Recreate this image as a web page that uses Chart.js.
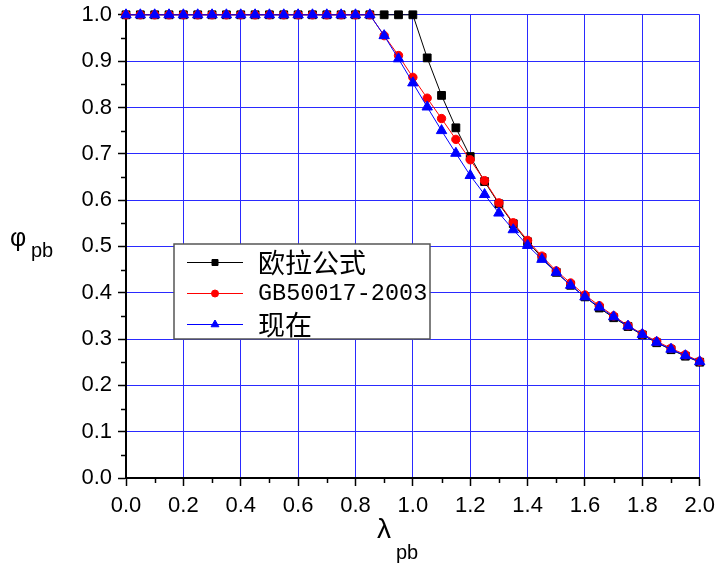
<!DOCTYPE html>
<html>
<head>
<meta charset="utf-8">
<script src="https://cdn.jsdelivr.net/npm/chart.js@4"></script>
<style>
  html, body { margin: 0; padding: 0; background: #fff; }
</style>
</head>
<body>
<canvas id="phiChart" width="721" height="565"></canvas>
<script>
// slenderness values (x)
const lambdaValues = [0, 0.05, 0.1, 0.15, 0.2, 0.25, 0.3, 0.35, 0.4, 0.45, 0.5,
  0.55, 0.6, 0.65, 0.7, 0.75, 0.8, 0.85, 0.9, 0.95, 1.0,
  1.05, 1.1, 1.15, 1.2, 1.25, 1.3, 1.35, 1.4, 1.45, 1.5,
  1.55, 1.6, 1.65, 1.7, 1.75, 1.8, 1.85, 1.9, 1.95, 2.0];

// 欧拉公式
const eulerPhi = [1, 1, 1, 1, 1, 1, 1, 1, 1, 1, 1,
  1, 1, 1, 1, 1, 1, 1, 1, 1, 1,
  0.907, 0.826, 0.756, 0.694, 0.640, 0.592, 0.549, 0.510, 0.476, 0.444,
  0.416, 0.391, 0.367, 0.346, 0.327, 0.309, 0.292, 0.277, 0.263, 0.250];

// GB50017-2003
const gbPhi = [1, 1, 1, 1, 1, 1, 1, 1, 1, 1, 1,
  1, 1, 1, 1, 1, 1, 1, 0.955, 0.912, 0.865,
  0.820, 0.776, 0.731, 0.687, 0.642, 0.594, 0.551, 0.513, 0.479, 0.447,
  0.421, 0.395, 0.372, 0.350, 0.329, 0.311, 0.295, 0.280, 0.266, 0.252];

// 现在
const currentPhi = [1, 1, 1, 1, 1, 1, 1, 1, 1, 1, 1,
  1, 1, 1, 1, 1, 1, 1, 0.955, 0.905, 0.853,
  0.801, 0.750, 0.701, 0.653, 0.612, 0.572, 0.536, 0.502, 0.472, 0.444,
  0.416, 0.391, 0.369, 0.348, 0.328, 0.310, 0.293, 0.278, 0.264, 0.251];

const seriesNames = ["欧拉公式", "GB50017-2003", "现在"];

const xTickValues = [0, 0.2, 0.4, 0.6, 0.8, 1.0, 1.2, 1.4, 1.6, 1.8, 2.0];
const yTickValues = [0, 0.1, 0.2, 0.3, 0.4, 0.5, 0.6, 0.7, 0.8, 0.9, 1.0];
const xMinorTicks = [0.1, 0.3, 0.5, 0.7, 0.9, 1.1, 1.3, 1.5, 1.7, 1.9];
const yMinorTicks = [0.05, 0.15, 0.25, 0.35, 0.45, 0.55, 0.65, 0.75, 0.85, 0.95];

const gridBlue = "#2a2aff";
const xTickFont = { family: "'Liberation Sans', Arial, sans-serif", size: 22, lineHeight: 1.27 };
const yTickFont = { family: "'Liberation Sans', Arial, sans-serif", size: 22, lineHeight: 0.8 };

function toPoints(ys) {
  return lambdaValues.map((x, i) => ({ x: x, y: ys[i] }));
}

function drawMarker(ctx, style, x, y, r, color) {
  ctx.save();
  ctx.fillStyle = color;
  ctx.strokeStyle = color;
  ctx.lineWidth = 1;
  ctx.beginPath();
  if (style === "rect") {
    ctx.rect(x - r, y - r, 2 * r, 2 * r);
  } else if (style === "circle") {
    ctx.arc(x, y, r, 0, Math.PI * 2);
  } else {
    ctx.moveTo(x, y - r);
    ctx.lineTo(x + r * 0.866, y + r * 0.5);
    ctx.lineTo(x - r * 0.866, y + r * 0.5);
    ctx.closePath();
  }
  ctx.fill();
  ctx.stroke();
  ctx.restore();
}

// minor ticks, axis titles with subscripts, legend box inside the plot
const extrasPlugin = {
  id: "extras",
  afterDraw(chart) {
    const ctx = chart.ctx;
    const xs = chart.scales.x, ys = chart.scales.y;
    const area = chart.chartArea;

    ctx.save();
    ctx.strokeStyle = "#000";
    ctx.lineWidth = 1.5;
    xMinorTicks.forEach(v => {
      const px = Math.round(xs.getPixelForValue(v)) + 0.5;
      ctx.beginPath();
      ctx.moveTo(px, area.bottom);
      ctx.lineTo(px, area.bottom + 5);
      ctx.stroke();
    });
    yMinorTicks.forEach(v => {
      const py = Math.round(ys.getPixelForValue(v)) + 0.5;
      ctx.beginPath();
      ctx.moveTo(area.left - 5, py);
      ctx.lineTo(area.left, py);
      ctx.stroke();
    });
    ctx.restore();

    // axis titles
    ctx.save();
    ctx.fillStyle = "#000";
    ctx.textBaseline = "alphabetic";
    ctx.textAlign = "left";
    ctx.font = "25px 'Liberation Sans', Arial, sans-serif";
    ctx.fillText("φ", 10, 246);
    ctx.font = "20px 'Liberation Sans', Arial, sans-serif";
    ctx.fillText("pb", 31, 257);
    ctx.font = "28px 'Liberation Sans', Arial, sans-serif";
    ctx.fillText("λ", 377, 538);
    ctx.font = "20px 'Liberation Sans', Arial, sans-serif";
    ctx.fillText("pb", 396, 559);
    ctx.restore();

    // legend
    const box = { left: 174, top: 244, right: 430, bottom: 339 };
    ctx.save();
    ctx.fillStyle = "#fff";
    ctx.fillRect(box.left, box.top, box.right - box.left, box.bottom - box.top);
    ctx.strokeStyle = "#555";
    ctx.lineWidth = 1.5;
    ctx.strokeRect(box.left, box.top, box.right - box.left, box.bottom - box.top);
    const rows = [262, 293, 324];
    chart.data.datasets.forEach((ds, i) => {
      const y = rows[i];
      ctx.strokeStyle = ds.borderColor;
      ctx.lineWidth = 1;
      ctx.beginPath();
      ctx.moveTo(187, y + 0.5);
      ctx.lineTo(243, y + 0.5);
      ctx.stroke();
      const r = ds.pointStyle === "rect" ? 3 : (ds.pointStyle === "circle" ? 3.5 : 4.5);
      drawMarker(ctx, ds.pointStyle, 215, y + 0.5, r, ds.pointBackgroundColor);
      ctx.fillStyle = "#000";
      ctx.textBaseline = "middle";
      ctx.textAlign = "left";
      if (/[^\x00-\x7f]/.test(ds.label)) {
        ctx.font = "27px 'Noto Sans CJK SC', sans-serif";
      } else {
        ctx.font = "23.5px 'Liberation Mono', monospace";
      }
      ctx.fillText(ds.label, 258, y + 1);
    });
    ctx.restore();
  }
};

const chart = new Chart(document.getElementById("phiChart").getContext("2d"), {
  type: "scatter",
  data: {
    datasets: [
      {
        label: seriesNames[0],
        data: toPoints(eulerPhi),
        showLine: true,
        borderColor: "#000",
        backgroundColor: "#000",
        pointBackgroundColor: "#000",
        pointBorderColor: "#000",
        borderWidth: 1,
        pointStyle: "rect",
        pointRadius: 5.5,
        pointBorderWidth: 1,
        clip: false,
        order: 3
      },
      {
        label: seriesNames[1],
        data: toPoints(gbPhi),
        showLine: true,
        borderColor: "#ff0000",
        backgroundColor: "#ff0000",
        pointBackgroundColor: "#ff0000",
        pointBorderColor: "#ff0000",
        borderWidth: 1,
        pointStyle: "circle",
        pointRadius: 4.2,
        pointBorderWidth: 1,
        clip: false,
        order: 2
      },
      {
        label: seriesNames[2],
        data: toPoints(currentPhi),
        showLine: true,
        borderColor: "#0000ff",
        backgroundColor: "#0000ff",
        pointBackgroundColor: "#0000ff",
        pointBorderColor: "#0000ff",
        borderWidth: 1,
        pointStyle: "triangle",
        pointRadius: 6,
        pointBorderWidth: 1,
        clip: false,
        order: 1
      }
    ]
  },
  options: {
    responsive: false,
    animation: false,
    events: [],
    layout: { padding: { left: 0, right: 20, top: 14, bottom: 0 } },
    plugins: {
      legend: { display: false },
      tooltip: { enabled: false }
    },
    scales: {
      x: {
        type: "linear",
        min: 0,
        max: 2.0,
        afterBuildTicks: s => { s.ticks = xTickValues.map(v => ({ value: v })); },
        afterFit: s => { s.height = 87; },
        ticks: {
          color: "#000",
          font: xTickFont,
          padding: 6,
          maxRotation: 0,
          callback: v => v.toFixed(1)
        },
        grid: {
          color: gridBlue,
          lineWidth: 1,
          tickColor: "#000",
          tickLength: 8,
          tickWidth: 1.5
        },
        border: { color: "#000", width: 2 }
      },
      y: {
        type: "linear",
        min: 0,
        max: 1.0,
        afterBuildTicks: s => { s.ticks = yTickValues.map(v => ({ value: v })); },
        afterFit: s => { s.width = 126; },
        ticks: {
          color: "#000",
          font: yTickFont,
          padding: 6,
          callback: v => v.toFixed(1)
        },
        grid: {
          color: gridBlue,
          lineWidth: 1,
          tickColor: "#000",
          tickLength: 8,
          tickWidth: 1.5
        },
        border: { color: "#000", width: 2 }
      }
    }
  },
  plugins: [extrasPlugin]
});
</script>
</body>
</html>
